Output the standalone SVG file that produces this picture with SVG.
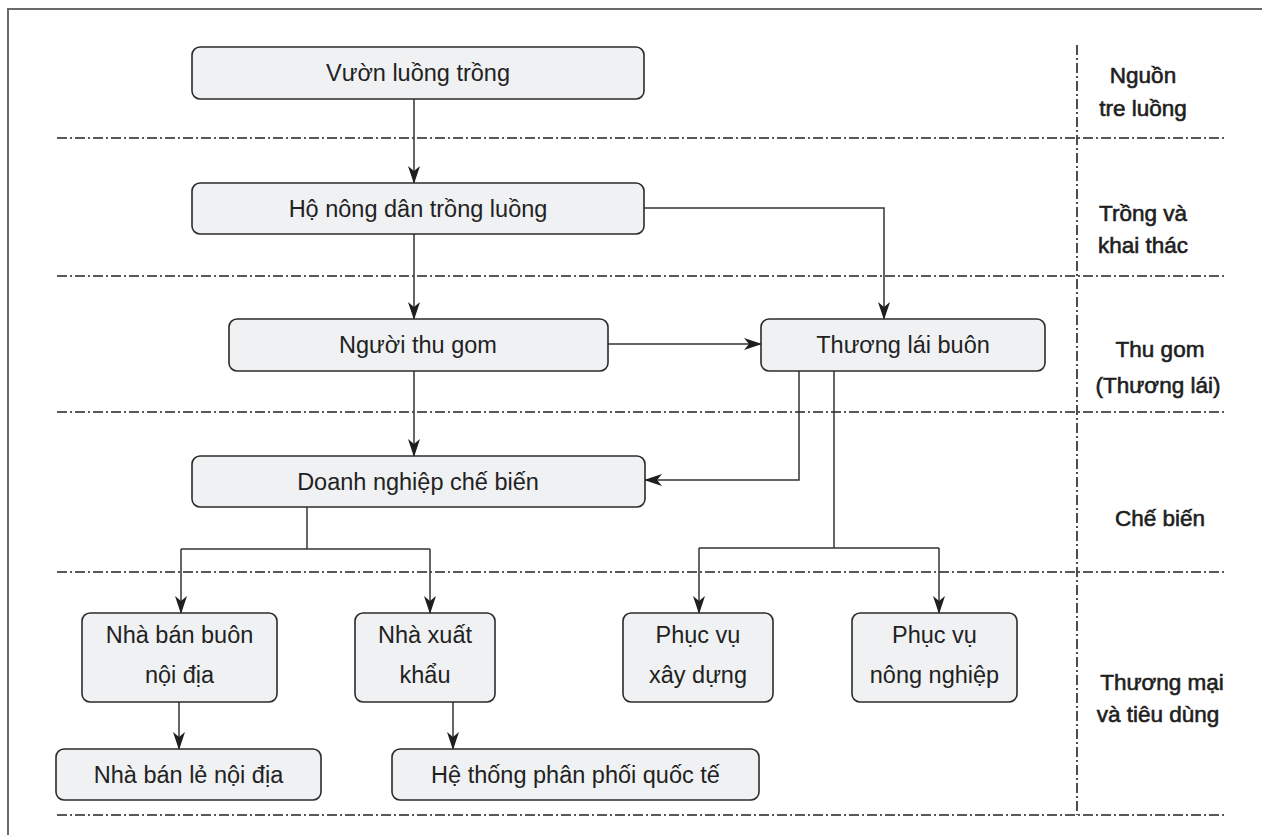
<svg xmlns="http://www.w3.org/2000/svg" width="1262" height="835" viewBox="0 0 1262 835">
  <style>
    .box { fill: #f0f1f3; stroke: #2b2b2b; stroke-width: 1.6; }
    .lbl { font-family: "Liberation Sans", Arial, sans-serif; font-size: 23.5px; fill: #222; text-anchor: middle; }
    .stage { font-family: "Liberation Sans", Arial, sans-serif; font-size: 22.5px; fill: #1e1e1e; stroke: #1e1e1e; stroke-width: 0.6; text-anchor: middle; }
    .sep { stroke: #222; stroke-width: 1.6; stroke-dasharray: 10 3 2 3; fill: none; }
    .link { stroke: #333; stroke-width: 1.5; fill: none; }
    .frame { stroke: #6a6a6a; stroke-width: 2; fill: none; }
  </style>
  <defs>
    <marker id="arrow" markerUnits="userSpaceOnUse" markerWidth="18" markerHeight="12" viewBox="0 0 18 12" refX="17" refY="6" orient="auto">
      <path d="M0,0 L18,6 L0,12 L5,6 Z" fill="#1e1e1e"/>
    </marker>
  </defs>

  <rect width="1262" height="835" fill="#fff"/>

  <!-- outer frame -->
  <path class="frame" d="M8,835 V9 H1262"/>

  <!-- stage separators -->
  <g id="separators">
    <line class="sep" x1="57" y1="138" x2="1225" y2="138"/>
    <line class="sep" x1="57" y1="276" x2="1225" y2="276"/>
    <line class="sep" x1="57" y1="412" x2="1225" y2="412"/>
    <line class="sep" x1="57" y1="572" x2="1225" y2="572"/>
    <line class="sep" x1="57" y1="815" x2="1225" y2="815"/>
    <line class="sep" x1="1077" y1="45" x2="1077" y2="815"/>
  </g>

  <!-- stage labels -->
  <g id="stages">
    <text class="stage" x="1143" y="83">Nguồn</text>
    <text class="stage" x="1143" y="116">tre luồng</text>
    <text class="stage" x="1143" y="221">Trồng và</text>
    <text class="stage" x="1143" y="253">khai thác</text>
    <text class="stage" x="1160" y="357">Thu gom</text>
    <text class="stage" x="1158" y="393">(Thương lái)</text>
    <text class="stage" x="1160" y="526">Chế biến</text>
    <text class="stage" x="1162" y="690">Thương mại</text>
    <text class="stage" x="1158" y="722">và tiêu dùng</text>
  </g>

  <!-- connectors -->
  <g id="connectors">
    <path class="link" d="M414,99 V183" marker-end="url(#arrow)"/>
    <path class="link" d="M414,234 V319" marker-end="url(#arrow)"/>
    <path class="link" d="M644,208 H884 V319" marker-end="url(#arrow)"/>
    <path class="link" d="M608,344 H761" marker-end="url(#arrow)"/>
    <path class="link" d="M414,371 V456" marker-end="url(#arrow)"/>
    <path class="link" d="M799,371 V480 H645" marker-end="url(#arrow)"/>
    <path class="link" d="M834,371 V548"/>
    <path class="link" d="M699,548 H939"/>
    <path class="link" d="M699,548 V613" marker-end="url(#arrow)"/>
    <path class="link" d="M939,548 V613" marker-end="url(#arrow)"/>
    <path class="link" d="M307,507 V549"/>
    <path class="link" d="M181,549 H430"/>
    <path class="link" d="M181,549 V613" marker-end="url(#arrow)"/>
    <path class="link" d="M430,549 V613" marker-end="url(#arrow)"/>
    <path class="link" d="M179,702 V749" marker-end="url(#arrow)"/>
    <path class="link" d="M453,702 V749" marker-end="url(#arrow)"/>
  </g>

  <!-- nodes -->
  <g id="vuon-luong">
    <rect class="box" x="192" y="47" width="452" height="52" rx="8"/>
    <text class="lbl" x="418" y="81">Vườn luồng trồng</text>
  </g>
  <g id="ho-nong-dan">
    <rect class="box" x="192" y="183" width="452" height="51" rx="8"/>
    <text class="lbl" x="418" y="217">Hộ nông dân trồng luồng</text>
  </g>
  <g id="nguoi-thu-gom">
    <rect class="box" x="229" y="319" width="379" height="52" rx="8"/>
    <text class="lbl" x="418" y="353">Người thu gom</text>
  </g>
  <g id="thuong-lai-buon">
    <rect class="box" x="761" y="319" width="284" height="52" rx="8"/>
    <text class="lbl" x="903" y="353">Thương lái buôn</text>
  </g>
  <g id="doanh-nghiep">
    <rect class="box" x="192" y="456" width="453" height="51" rx="8"/>
    <text class="lbl" x="418" y="490">Doanh nghiệp chế biến</text>
  </g>
  <g id="ban-buon">
    <rect class="box" x="82" y="613" width="195" height="89" rx="8"/>
    <text class="lbl" x="179.5" y="643">Nhà bán buôn</text>
    <text class="lbl" x="179.5" y="683">nội địa</text>
  </g>
  <g id="xuat-khau">
    <rect class="box" x="355" y="613" width="140" height="89" rx="8"/>
    <text class="lbl" x="425" y="643">Nhà xuất</text>
    <text class="lbl" x="425" y="683">khẩu</text>
  </g>
  <g id="xay-dung">
    <rect class="box" x="623" y="613" width="150" height="89" rx="8"/>
    <text class="lbl" x="698" y="643">Phục vụ</text>
    <text class="lbl" x="698" y="683">xây dựng</text>
  </g>
  <g id="nong-nghiep">
    <rect class="box" x="852" y="613" width="165" height="89" rx="8"/>
    <text class="lbl" x="934.5" y="643">Phục vụ</text>
    <text class="lbl" x="934.5" y="683">nông nghiệp</text>
  </g>
  <g id="ban-le">
    <rect class="box" x="56" y="749" width="265" height="51" rx="8"/>
    <text class="lbl" x="188.5" y="783">Nhà bán lẻ nội địa</text>
  </g>
  <g id="phan-phoi">
    <rect class="box" x="392" y="749" width="367" height="51" rx="8"/>
    <text class="lbl" x="575.5" y="783">Hệ thống phân phối quốc tế</text>
  </g>
</svg>
